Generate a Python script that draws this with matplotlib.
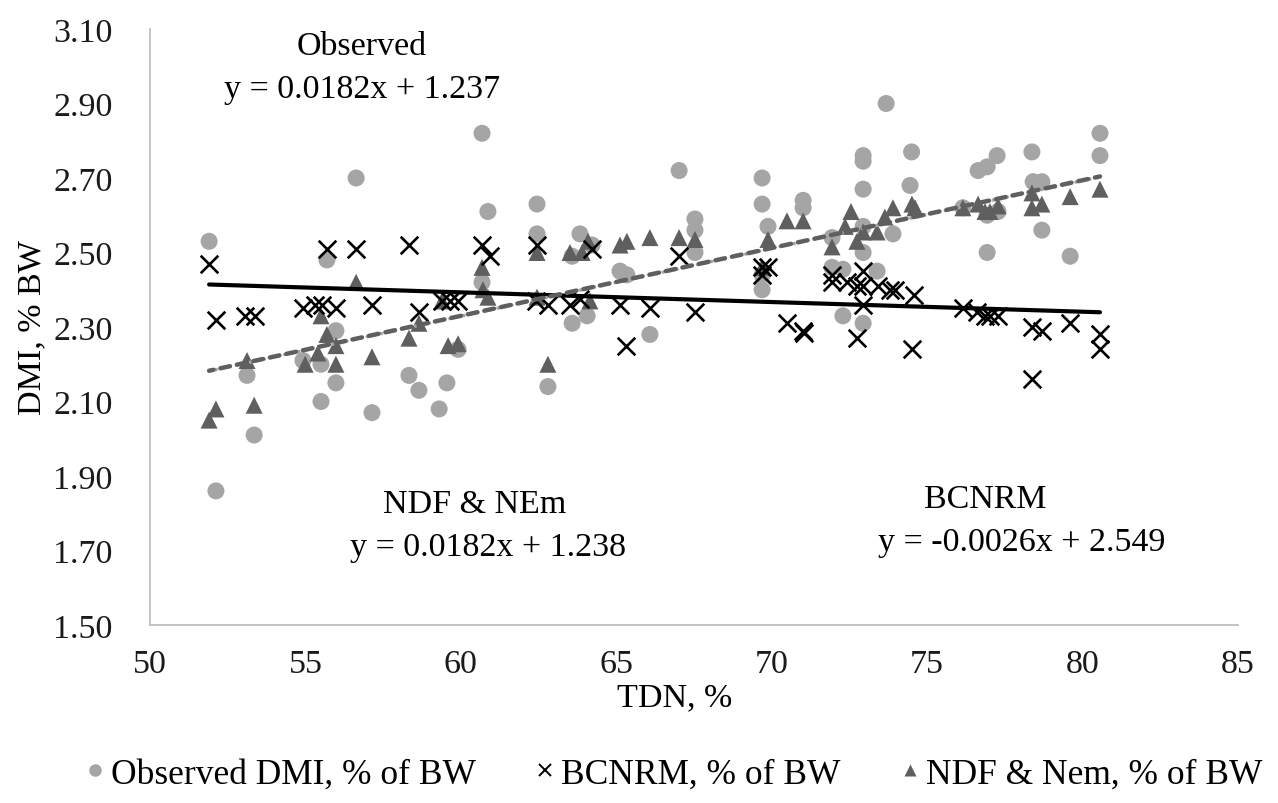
import numpy as np
import matplotlib; matplotlib.use("Agg")
import matplotlib.pyplot as plt
from matplotlib.lines import Line2D

plt.rcParams["font.family"] = ["Liberation Serif", "DejaVu Serif"]

# observed DMI, % of BW
obs_tdn = [51.90, 56.63, 55.69, 53.12, 53.35, 52.12, 54.92, 55.50, 55.98, 55.98, 55.50, 57.14,
           58.33, 58.65, 59.30, 59.55, 59.91, 60.68, 60.87, 62.45, 62.45, 63.83, 64.22, 63.58,
           60.68, 65.12, 65.34, 67.02, 63.58, 64.06, 66.08, 62.80, 67.53, 67.53, 67.53, 69.69,
           69.69, 69.88, 69.69, 69.69, 71.01, 71.01, 71.94, 71.94, 72.29, 72.29, 72.94, 72.94,
           72.94, 72.94, 72.94, 72.94, 73.39, 73.90, 74.45, 74.50, 73.68, 76.15, 76.64, 76.93,
           77.25, 76.93, 77.28, 76.93, 78.37, 78.41, 78.69, 78.69, 79.60, 80.56, 80.56]
obs_dmi = [2.53, 2.70, 2.48, 2.17, 2.01, 1.86, 2.21, 2.20, 2.29, 2.15, 2.10, 2.07,
           2.17, 2.13, 2.08, 2.15, 2.24, 2.82, 2.61, 2.63, 2.55, 2.55, 2.52, 2.49,
           2.42, 2.45, 2.44, 2.72, 2.31, 2.33, 2.28, 2.14, 2.59, 2.56, 2.50, 2.70,
           2.63, 2.57, 2.44, 2.40, 2.64, 2.62, 2.54, 2.46, 2.455, 2.33, 2.76, 2.745,
           2.67, 2.57, 2.50, 2.31, 2.45, 2.55, 2.68, 2.77, 2.90, 2.62, 2.72, 2.73,
           2.76, 2.60, 2.61, 2.50, 2.77, 2.69, 2.69, 2.56, 2.49, 2.82, 2.76]

# BCNRM predicted DMI, % of BW
bc_tdn = [51.90, 52.12, 53.06, 53.38, 54.92, 55.31, 55.53, 55.98, 55.69, 56.63, 57.14, 58.33,
          58.65, 59.39, 59.65, 59.91, 60.68, 60.94, 62.45, 64.22, 67.02, 62.42, 62.80, 63.51,
          63.83, 65.12, 66.08, 65.31, 67.53, 69.69, 69.88, 69.69, 70.49, 71.01, 71.05, 71.94,
          71.94, 72.42, 72.74, 72.94, 72.94, 72.94, 72.74, 73.42, 73.81, 73.97, 74.51, 74.58,
          76.15, 76.60, 76.86, 77.02, 77.28, 78.37, 78.69, 79.60, 80.56, 80.56, 78.37]
bc_dmi = [2.47, 2.32, 2.33, 2.33, 2.35, 2.36, 2.36, 2.35, 2.51, 2.51, 2.36, 2.52,
          2.34, 2.37, 2.37, 2.37, 2.52, 2.49, 2.52, 2.51, 2.49, 2.37, 2.36, 2.36,
          2.375, 2.36, 2.35, 2.25, 2.34, 2.46, 2.46, 2.44, 2.31, 2.29, 2.285, 2.44,
          2.42, 2.42, 2.41, 2.45, 2.41, 2.36, 2.27, 2.41, 2.40, 2.40, 2.24, 2.385,
          2.35, 2.34, 2.33, 2.33, 2.33, 2.30, 2.29, 2.31, 2.28, 2.24, 2.16]

# NDF & NEm predicted DMI, % of BW
ndf_tdn = [52.12, 51.90, 53.12, 53.35, 54.99, 55.50, 55.69, 55.40, 55.98, 55.98, 56.63, 57.14,
           58.33, 58.65, 59.39, 59.59, 59.91, 60.68, 60.71, 60.87, 62.45, 62.45, 62.80, 63.51,
           63.90, 64.09, 64.15, 65.12, 65.34, 66.08, 67.02, 67.53, 69.69, 69.88, 70.49, 71.01,
           71.94, 72.36, 72.55, 72.74, 72.94, 73.39, 73.64, 73.90, 74.51, 74.61, 76.15, 76.64,
           76.86, 77.02, 77.28, 78.37, 78.37, 78.69, 79.60, 80.56]
ndf_dmi = [2.08, 2.05, 2.21, 2.09, 2.20, 2.33, 2.28, 2.23, 2.25, 2.20, 2.42, 2.22,
           2.27, 2.31, 2.37, 2.25, 2.255, 2.46, 2.40, 2.38, 2.50, 2.38, 2.20, 2.50,
           2.50, 2.53, 2.37, 2.52, 2.53, 2.54, 2.54, 2.535, 2.46, 2.535, 2.585, 2.585,
           2.515, 2.57, 2.61, 2.53, 2.555, 2.555, 2.595, 2.62, 2.63, 2.62, 2.62, 2.63,
           2.61, 2.61, 2.625, 2.66, 2.62, 2.63, 2.65, 2.67]

# trendline coefficients (slope, intercept) as printed on the chart
fit_obs = (0.0182, 1.237)
fit_ndf = (0.0182, 1.238)
fit_bc = (-0.0026, 2.549)

LIGHT = "#a5a5a5"; DARK = "#5f5f5f"; FS = 24.5

fig = plt.figure(figsize=(12.78, 8.04), dpi=100)
ax = fig.add_axes([0.1174, 0.2214, 0.8513, 0.7413])

ax.scatter(obs_tdn, obs_dmi, s=150, color=LIGHT, edgecolors="none", zorder=3)
ax.scatter(bc_tdn, bc_dmi, s=160, marker="x", color="black", linewidths=1.9, zorder=4)
ax.scatter(ndf_tdn, ndf_dmi, s=150, marker="^", color=DARK, edgecolors="none", zorder=3)

def trend(xs, fit):
    xx = np.array([min(xs), max(xs)])
    return xx, fit[0] * xx + fit[1]

xx, yy = trend(bc_tdn, fit_bc)
ax.plot(xx, yy, color="black", lw=3, solid_capstyle="round", zorder=5)
xx, yy = trend(obs_tdn, fit_obs)
ax.plot(xx, yy, color=LIGHT, lw=2.6, ls=(0, (0.05, 1.9)), dash_capstyle="round", zorder=5)
xx, yy = trend(ndf_tdn, fit_ndf)
ax.plot(xx, yy, color=DARK, lw=3.2, ls=(1.2, (2.2, 1.6)), dash_capstyle="round", zorder=6)

ax.set_xlim(50, 85); ax.set_ylim(1.5, 3.1)
ax.set_xticks(np.arange(50, 86, 5))
ax.set_yticks(np.arange(1.5, 3.11, 0.2))
ax.set_yticklabels([f"{v:.2f}" for v in np.arange(1.5, 3.11, 0.2)])
ax.tick_params(length=0, labelsize=FS, colors="#1a1a1a")
ax.tick_params(axis="y", pad=27); ax.tick_params(axis="x", pad=17)
for s in ("top", "right"): ax.spines[s].set_visible(False)
for s in ("left", "bottom"): ax.spines[s].set_color("#bfbfbf"); ax.spines[s].set_linewidth(1.3)

ax.set_xlabel("TDN, %", fontsize=FS)
ax.set_ylabel("DMI, % BW", fontsize=FS)
ax.xaxis.set_label_coords(0.4825, -0.095)
ax.yaxis.set_label_coords(-0.094, 0.5)

ax.text(56.82, 3.054, "Observed", fontsize=FS, ha="center", va="center")
ax.text(56.82, 2.939, "y = 0.0182x + 1.237", fontsize=FS, ha="center", va="center")
ax.text(60.45, 1.825, "NDF & NEm", fontsize=FS, ha="center", va="center")
ax.text(60.87, 1.709, "y = 0.0182x + 1.238", fontsize=FS, ha="center", va="center")
ax.text(76.86, 1.838, "BCNRM", fontsize=FS, ha="center", va="center")
ax.text(78.05, 1.723, "y = -0.0026x + 2.549", fontsize=FS, ha="center", va="center")

handles = [Line2D([], [], ls="none", marker="o", ms=9, color=LIGHT, mec="none"),
           Line2D([], [], ls="none", marker="x", ms=9, color="black", mew=1.4),
           Line2D([], [], ls="none", marker="^", ms=9, color=DARK, mec="none")]
labels = ["Observed DMI, % of BW", "BCNRM, % of BW", "NDF & Nem, % of BW"]
fig.legend(handles, labels, loc="center", bbox_to_anchor=(0.527, 0.036), ncol=3, frameon=False,
           fontsize=25.5, handlelength=0.6, handletextpad=0.15, columnspacing=1.65)

fig.savefig("out.png", dpi=100)
